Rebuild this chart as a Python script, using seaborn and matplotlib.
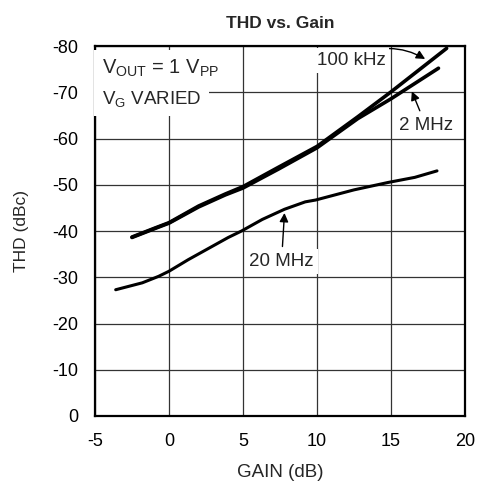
import numpy as np
import pandas as pd
import matplotlib
matplotlib.use("Agg")
import matplotlib.pyplot as plt
import seaborn as sns

# ── Data ─────────────────────────────────────────────────────────────────
gain_100k = [-2.5, -0.9, 0.0, 2.0, 3.8, 5.0, 7.4, 10.0, 12.75, 15.0, 18.75]
thd_100k = [-38.7, -40.7, -41.8, -45.4, -48.0, -49.6, -53.8, -58.3, -64.7, -70.1, -79.5]

gain_2m = [-2.5, -0.9, 0.0, 2.0, 3.8, 5.0, 7.4, 10.0, 12.75, 15.0, 18.2]
thd_2m = [-38.6, -40.6, -41.7, -45.2, -47.8, -49.3, -53.4, -58.0, -64.3, -68.6, -75.2]

gain_20m = [-3.6, -1.8, -0.7, 0.0, 1.3, 4.0, 4.9, 6.3, 7.8, 9.2, 9.9, 12.5, 14.8, 16.6, 18.1]
thd_20m = [-27.3, -28.8, -30.2, -31.3, -33.8, -38.6, -40.0, -42.5, -44.7, -46.3, -46.7,
           -48.9, -50.5, -51.6, -53.0]

series_names = ["100 kHz", "2 MHz", "20 MHz"]
x_ticks = [-5, 0, 5, 10, 15, 20]
y_ticks = [0, -10, -20, -30, -40, -50, -60, -70, -80]

df = pd.concat([
    pd.DataFrame({"gain": gain_100k, "thd": thd_100k, "freq": series_names[0]}),
    pd.DataFrame({"gain": gain_2m, "thd": thd_2m, "freq": series_names[1]}),
    pd.DataFrame({"gain": gain_20m, "thd": thd_20m, "freq": series_names[2]}),
])

# ── Style ────────────────────────────────────────────────────────────────
sns.set_theme(style="white")
plt.rcParams["font.family"] = ["Liberation Sans", "DejaVu Sans"]
plt.rcParams["mathtext.fontset"] = "custom"
plt.rcParams["mathtext.rm"] = "Liberation Sans"
plt.rcParams["mathtext.it"] = "Liberation Sans"
plt.rcParams["axes.unicode_minus"] = False

fig = plt.figure(figsize=(4.82, 4.87), dpi=100)
ax = fig.add_axes([0.197, 0.1458, 0.768, 0.7597])

sns.lineplot(data=df, x="gain", y="thd", hue="freq", sort=False,
             palette=["black", "black", "black"], legend=False, ax=ax,
             estimator=None)
for line, lw in zip(ax.lines, [2.6, 2.6, 2.2]):
    line.set_linewidth(lw)
    line.set_solid_capstyle("round")

ax.set_xlim(-5, 20)
ax.set_ylim(0, -80)
ax.set_xticks(x_ticks)
ax.set_yticks(y_ticks)
ax.grid(True, color="#333333", linewidth=0.9)
ax.set_axisbelow(True)
for sp in ax.spines.values():
    sp.set_color("black")
    sp.set_linewidth(1.6)
ax.tick_params(length=0, labelsize=13, colors="black")
ax.tick_params(axis="x", pad=12)
ax.tick_params(axis="y", pad=12)

ax.set_title("THD vs. Gain", fontsize=12.5, fontweight="bold", pad=13)
ax.set_xlabel("GAIN (dB)", fontsize=13.5, labelpad=10)
ax.set_ylabel("THD (dBc)", fontsize=12.5, labelpad=17)

# ── Annotations ──────────────────────────────────────────────────────────
fs = 13.5
white = dict(boxstyle="square,pad=0.2", fc="white", ec="none")
ax.text(-4.55, -75.2, r"V$_{\rm OUT}$ = 1 V$_{\rm PP}$", fontsize=14.5,
        ha="left", va="center", bbox=dict(boxstyle="square,pad=0.4", fc="white", ec="none"))
ax.text(-4.55, -68.6, r"V$_{\rm G}$ VARIED", fontsize=fs,
        ha="left", va="center", bbox=dict(boxstyle="square,pad=0.4", fc="white", ec="none"))

arrow = dict(arrowstyle="-|>", color="black", lw=1.0, mutation_scale=13)
ax.annotate("100 kHz", xy=(17.3, -77.2), xytext=(12.3, -76.9), fontsize=fs,
            ha="center", va="center", bbox=white,
            arrowprops=dict(arrow, connectionstyle="arc3,rad=-0.3",
                            shrinkA=0, shrinkB=0))
ax.annotate("2 MHz", xy=(16.4, -70.2), xytext=(17.35, -62.8), fontsize=fs,
            ha="center", va="center", bbox=white,
            arrowprops=dict(arrow, shrinkA=2, shrinkB=0))
ax.annotate("20 MHz", xy=(7.8, -43.9), xytext=(7.6, -33.4), fontsize=fs,
            ha="center", va="center", bbox=white,
            arrowprops=dict(arrow, shrinkA=2, shrinkB=0))

fig.savefig("out.png", dpi=100)
